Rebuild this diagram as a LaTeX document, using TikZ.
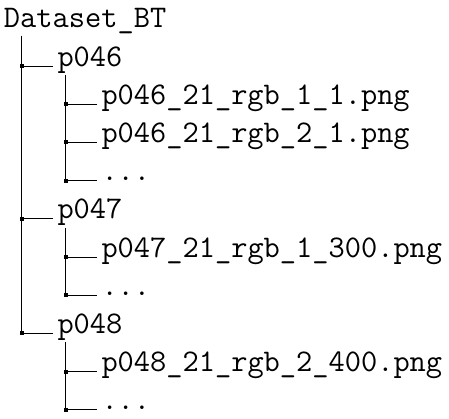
\documentclass[tikz,border=0pt]{standalone}
\usetikzlibrary{positioning}
\tikzset{
  entry/.style={anchor=base west, inner sep=0pt, outer sep=0pt, font=\fontsize{31.5}{37}\selectfont\ttfamily},
  jsq/.style={rectangle, fill=black, draw=none, minimum size=4pt, inner sep=0pt, pos=0.5},
  treeline/.style={draw=black, line width=1pt},
}
\begin{document}
\begin{tikzpicture}[x=1pt,y=-1pt]
\useasboundingbox (0,0) rectangle (449,418);
% entries
\node[entry] (root) at (4,27.8) {Dataset\_BT};
\node[entry] (a)  at (57.5,66)    {p046};
\node[entry] (a1) at (101.5,104.2) {p046\_21\_rgb\_1\_1.png};
\node[entry] (a2) at (101.5,142.4) {p046\_21\_rgb\_2\_1.png};
\node[entry] (a3) at (101.5,180.6) {...};
\node[entry] (b)  at (57.5,218.8) {p047};
\node[entry] (b1) at (101.5,257) {p047\_21\_rgb\_1\_300.png};
\node[entry] (b2) at (101.5,295.2) {...};
\node[entry] (c)  at (57.5,333.4) {p048};
\node[entry] (c1) at (101.5,371.6) {p048\_21\_rgb\_2\_400.png};
\node[entry] (c2) at (101.5,409.8) {...};
% level 1 connectors
\foreach \ch in {a,b,c}{
  \draw[treeline] ([xshift=17.7pt,yshift=-8pt]root.base west) |- node[jsq]{} ([xshift=-5pt]\ch.base west);
}
% level 2 connectors
\foreach \pa/\ch in {a/a1,a/a2,a/a3,b/b1,b/b2,c/c1,c/c2}{
  \draw[treeline] ([xshift=8.2pt,yshift=-9pt]\pa.base west) |- node[jsq]{} ([xshift=-4.8pt]\ch.base west);
}
\end{tikzpicture}
\end{document}
